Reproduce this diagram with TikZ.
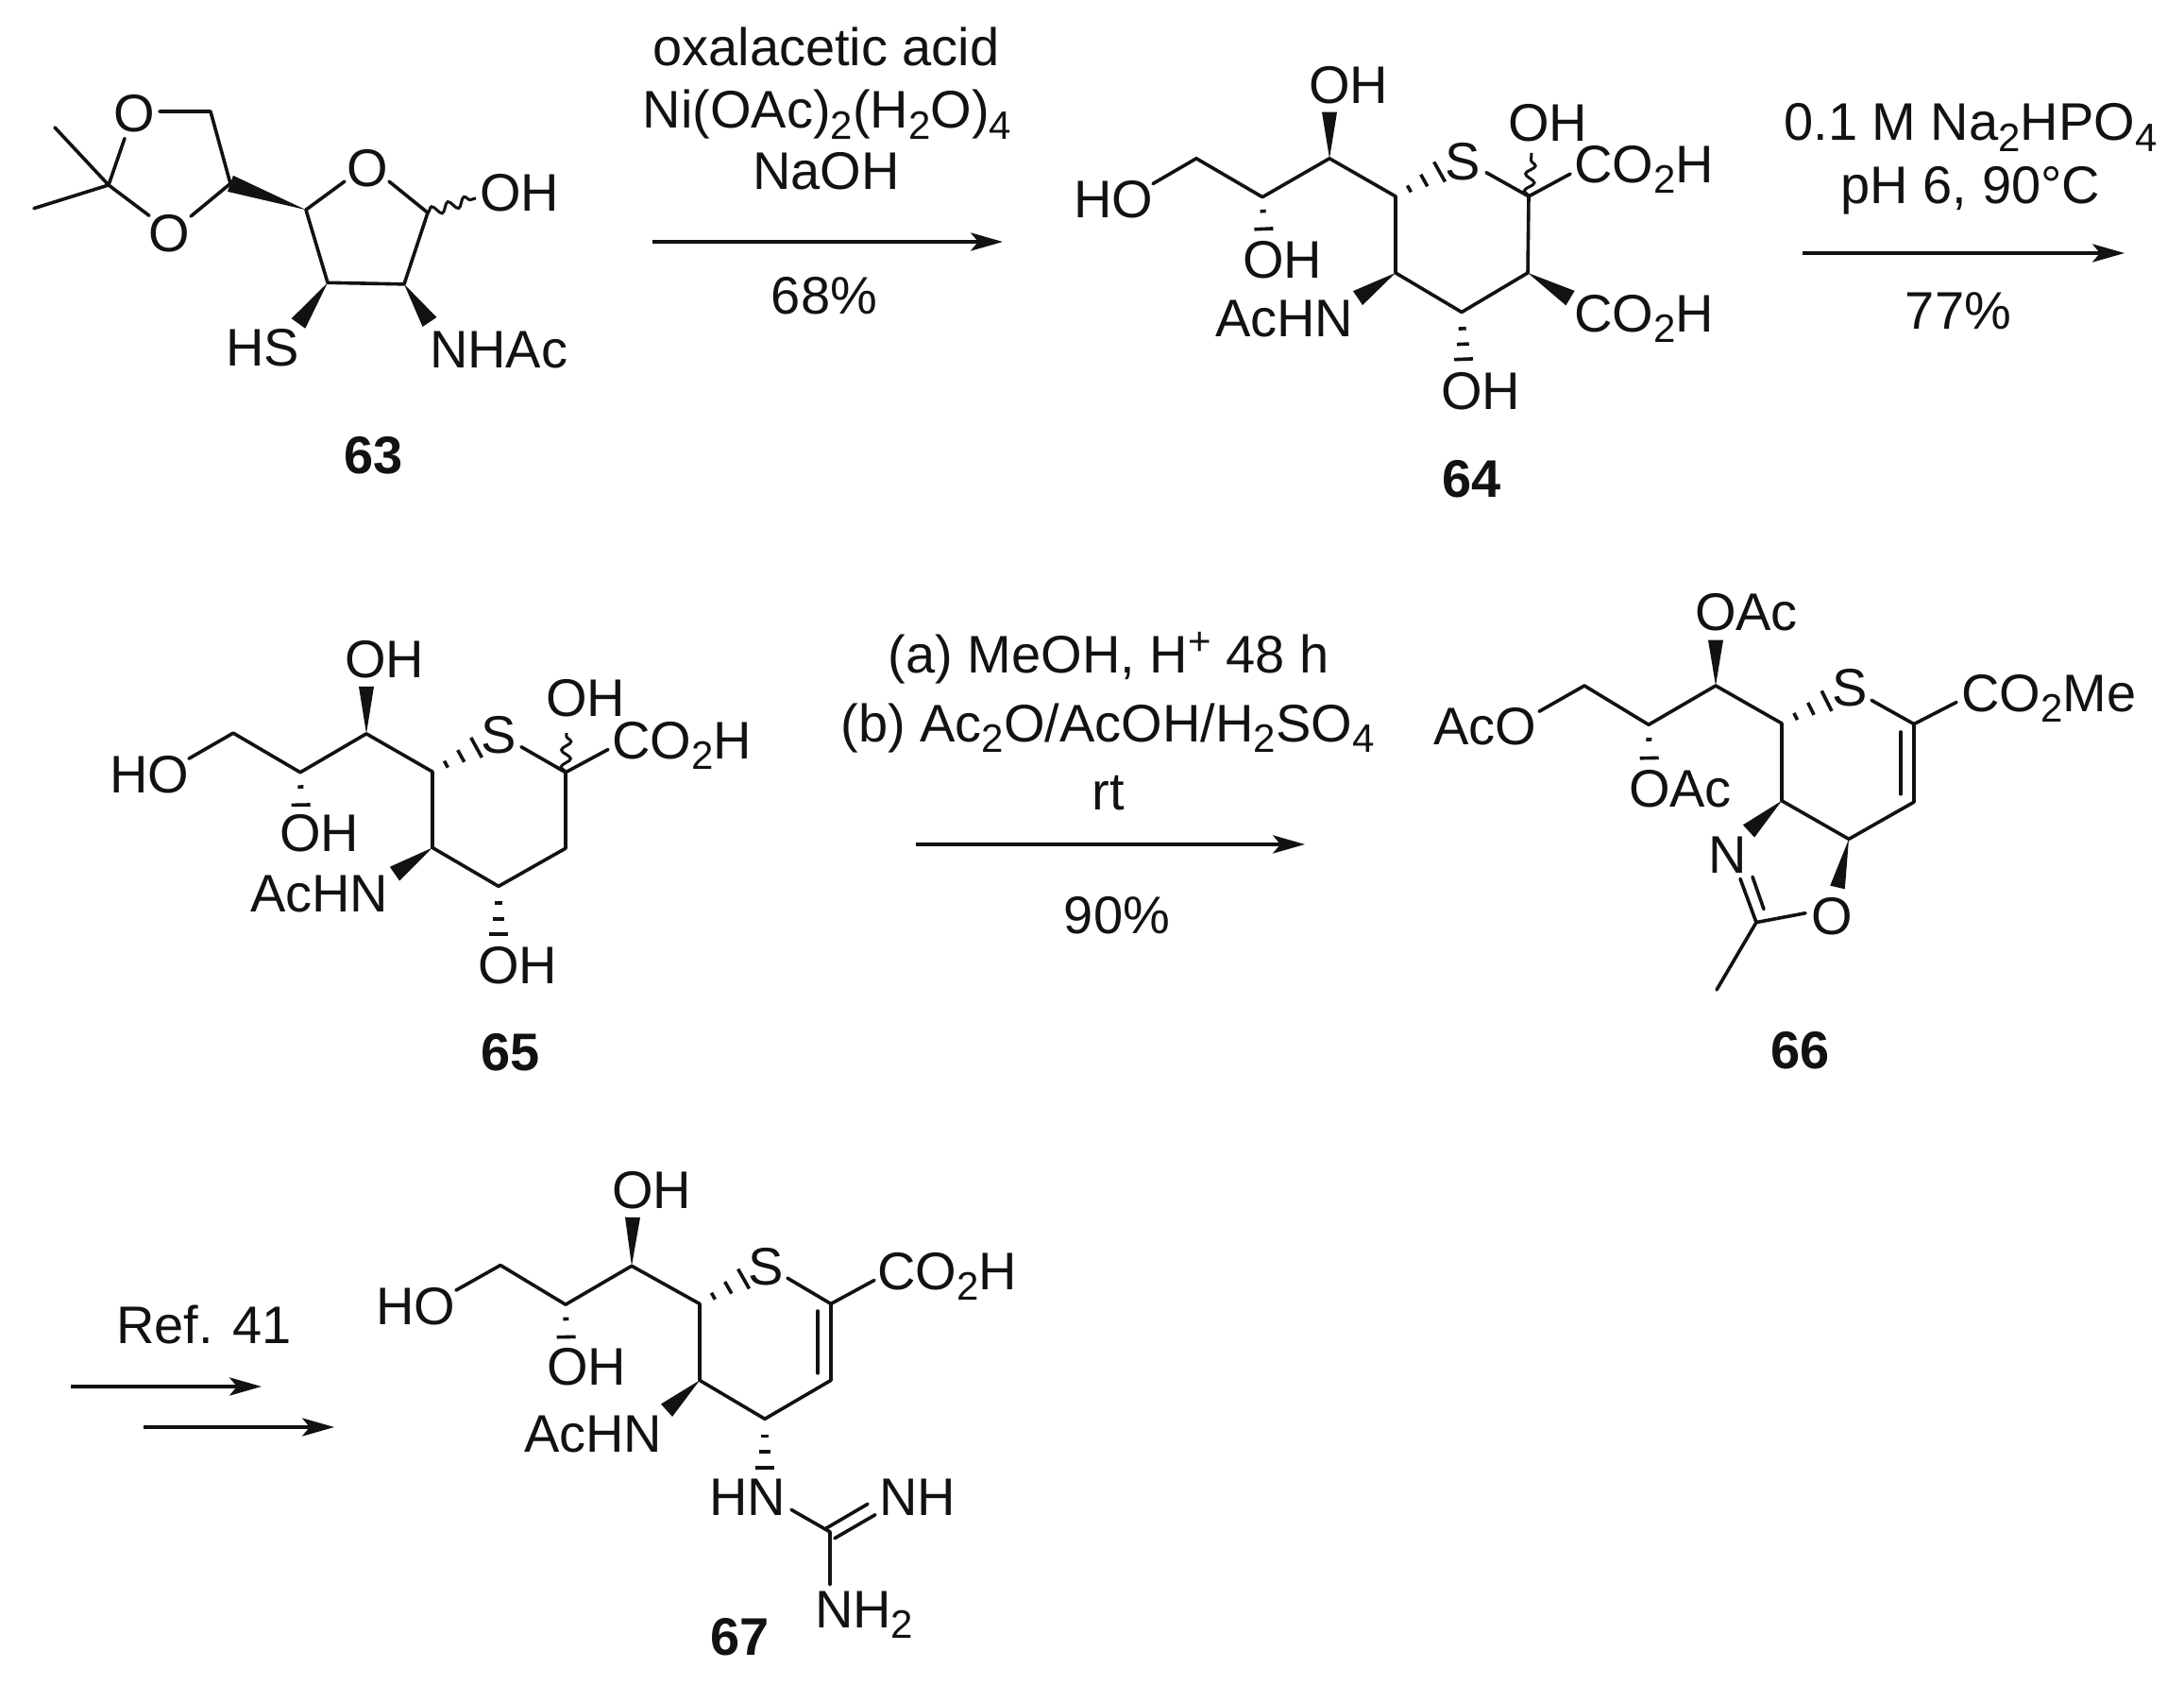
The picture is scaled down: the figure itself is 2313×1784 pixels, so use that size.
\documentclass[tikz,border=0pt]{standalone}
\usepackage{fontspec}
\setmainfont{Liberation Sans}
\usetikzlibrary{calc,decorations.pathmorphing,arrows.meta}
\newcommand\lowr[1]{\raisebox{-2.8pt}{\fontsize{10.5pt}{12pt}\selectfont #1}}
\newcommand\uppr[1]{\raisebox{4.8pt}{\fontsize{10.5pt}{12pt}\selectfont #1}}
\newcommand\wedgeb[3]{\fill[ink] (#1) -- ($(#2)!#3!90:(#1)$) -- ($(#2)!#3!-90:(#1)$) -- cycle;}
\newcommand\hashb[3]{\foreach \t/\w in {#3}{\coordinate (hp) at ($(#1)!\t!(#2)$);
  \draw[bond,line cap=butt] ($(hp)!\w!90:(#1)$) -- ($(hp)!\w!-90:(#1)$);}}
\colorlet{ink}{black!93}
\tikzset{
  bond/.style={draw=ink,line width=0.9pt,line cap=round,line join=round},
  wavy/.style={draw=ink,line width=0.75pt,decorate,decoration={snake,amplitude=1.25pt,segment length=4.5pt}},
  lbl/.style={anchor=base west,inner sep=0pt,outer sep=0pt,text=ink,font=\fontsize{14pt}{16pt}\selectfont},
  rea/.style={anchor=base,inner sep=0pt,outer sep=0pt,text=ink,font=\fontsize{14pt}{16pt}\selectfont},
  cmpd/.style={anchor=base west,inner sep=0pt,outer sep=0pt,text=ink,font=\fontsize{14pt}{16pt}\selectfont\bfseries},
  rxn/.style={draw=ink,line width=0.8pt,-{Stealth[length=8.5pt,width=4.8pt,inset=2pt]}}
}
\begin{document}
\begin{tikzpicture}[x=0.25pt,y=-0.25pt]
\useasboundingbox (0,0) rectangle (2313,1784);
% ---------- 63
\begin{scope}[yscale=0.7714]
\node[lbl] (aO1) at (121,181) {O};
\node[lbl] (aO2) at (157,345) {O};
\node[lbl] (aO3) at (367,256) {O};
\node[lbl] (aOH) at (508,290) {OH};
\node[lbl] (aHS) at (239,502) {HS};
\node[lbl] (aNH) at (455,505) {NHAc};
\node[cmpd] (a63) at (364,650) {63};
\coordinate (aM1) at (58,175); \coordinate (aM2) at (36,286); \coordinate (aC) at (115,254);
\coordinate (aE1) at (132,190); \coordinate (aE2) at (169,153); \coordinate (aCH) at (223,153);
\coordinate (aC4) at (244,252); \coordinate (aE3) at (202,297); \coordinate (aE4) at (158,296);
\coordinate (aC5) at (324,288); \coordinate (aE5) at (365,249); \coordinate (aE6) at (412,249);
\coordinate (aC1) at (453,292); \coordinate (aC2) at (428,390); \coordinate (aC3) at (347,388);
\coordinate (aW1) at (504,272); \coordinate (aW3) at (316,444); \coordinate (aW2) at (455,442);
\end{scope}
\draw[bond] (aM1) -- (aC) -- (aM2);
\draw[bond] (aE1) -- (aC) -- (aE4);
\draw[bond] (aE2) -- (aCH) -- (aC4) -- (aE3);
\draw[bond] (aE5) -- (aC5) -- (aC3) -- (aC2) -- (aC1) -- (aE6);
\wedgeb{aC5}{aC4}{2.25pt}
\wedgeb{aC3}{aW3}{2.25pt}
\wedgeb{aC2}{aW2}{2.25pt}
\draw[wavy] (aC1) -- (aW1);
% ---------- reaction 1
\node[rea] (r1a) at (875,70) {oxalacetic acid};
\node[rea] (r1b) at (876,136) {Ni(OAc)\lowr{2}(H\lowr{2}O)\lowr{4}};
\node[rea] (r1c) at (875,201) {NaOH};
\node[rea] (r1d) at (873,333) {68\%};
\coordinate (r1s) at (691,256); \coordinate (r1t) at (1062,256);
\draw[rxn] (r1s) -- (r1t);
% ---------- 64
\begin{scope}[shift={(0,40)},yscale=0.743,shift={(0,-40)}]
\node[lbl] (bHO) at (1137,296) {HO};
\node[lbl] (bS) at (1530,242) {S};
\node[lbl] (bOH1) at (1386,133) {OH};
\node[lbl] (bOH2) at (1316,383) {OH};
\node[lbl] (bOH3) at (1597,188) {OH};
\node[lbl] (bCO1) at (1667,247) {CO\lowr{2}H};
\node[lbl] (bCO2) at (1667,459) {CO\lowr{2}H};
\node[lbl] (bAc) at (1287,466) {AcHN};
\node[lbl] (bOH4) at (1526,569) {OH};
\node[cmpd] (b64) at (1527,695) {64};
\coordinate (b0) at (1221,248); \coordinate (b1) at (1267,212); \coordinate (b2) at (1337,267);
\coordinate (b3) at (1408,212); \coordinate (b4) at (1478,266); \coordinate (b5) at (1478,375);
\coordinate (b6) at (1548,431); \coordinate (b7) at (1618,375); \coordinate (b8) at (1619,266);
\coordinate (b9) at (1574,232); \coordinate (bA) at (1663,234);
\coordinate (bW1) at (1408,146); \coordinate (bW2) at (1663,411); \coordinate (bW3) at (1438,411);
\coordinate (bH1) at (1339,330); \coordinate (bH2) at (1526,230); \coordinate (bH3) at (1550,498);
\coordinate (bV) at (1622,204);
\end{scope}
\draw[bond] (b0) -- (b1) -- (b2) -- (b3) -- (b4) -- (b5) -- (b6) -- (b7) -- (b8) -- (b9);
\draw[bond] (b8) -- (bA);
\wedgeb{b3}{bW1}{2pt}
\wedgeb{b7}{bW2}{2.25pt}
\wedgeb{b5}{bW3}{2.25pt}
\hashb{b2}{bH1}{0.32/0.75pt,0.72/2.5pt}
\hashb{b6}{bH3}{0.35/1pt,0.68/1.6pt,1/2.5pt}
\hashb{b4}{bH2}{0.3/1pt,0.63/1.8pt,0.97/3pt}
\draw[wavy] (b8) -- (bV);
% ---------- reaction 2
\node[rea] (r2a) at (2087,149) {0.1 M Na\lowr{2}HPO\lowr{4}};
\node[rea] (r2b) at (2087,216) {pH 6, 90°C};
\node[rea] (r2c) at (2074,349) {77\%};
\coordinate (r2s) at (1909,268); \coordinate (r2t) at (2250,268);
\draw[rxn] (r2s) -- (r2t);
% ---------- 65
\begin{scope}[shift={(0,650)},yscale=0.6932,shift={(0,-650)}]
\node[lbl] (cHO) at (116,923) {HO};
\node[lbl] (cS) at (509,863) {S};
\node[lbl] (cOH1) at (365,748) {OH};
\node[lbl] (cOH2) at (296,1013) {OH};
\node[lbl] (cOH3) at (578,807) {OH};
\node[lbl] (cCO) at (648,871) {CO\lowr{2}H};
\node[lbl] (cAc) at (265,1105) {AcHN};
\node[lbl] (cOH4) at (506,1215) {OH};
\node[cmpd] (c65) at (509,1348) {65};
\coordinate (c0) at (200,871); \coordinate (c1) at (247,832); \coordinate (c2) at (318,892);
\coordinate (c3) at (388,833); \coordinate (c4) at (458,891); \coordinate (c5) at (458,1007);
\coordinate (c6) at (528,1066); \coordinate (c7) at (599,1008); \coordinate (c8) at (599,892);
\coordinate (c9) at (552,853); \coordinate (cA) at (644,857);
\coordinate (cW1) at (388,761); \coordinate (cW2) at (418,1047);
\coordinate (cH1) at (319,961); \coordinate (cH2) at (506,853); \coordinate (cH3) at (528,1139);
\coordinate (cV) at (600,832);
\end{scope}
\draw[bond] (c0) -- (c1) -- (c2) -- (c3) -- (c4) -- (c5) -- (c6) -- (c7) -- (c8) -- (c9);
\draw[bond] (c8) -- (cA);
\wedgeb{c3}{cW1}{2pt}
\wedgeb{c5}{cW2}{2.25pt}
\hashb{c2}{cH1}{0.32/0.75pt,0.72/2.5pt}
\hashb{c6}{cH3}{0.35/1pt,0.68/1.6pt,1/2.5pt}
\hashb{c4}{cH2}{0.3/1pt,0.63/1.8pt,0.97/3pt}
\draw[wavy] (c8) -- (cV);
% ---------- reaction 3
\begin{scope}[shift={(0,650)},yscale=0.8667,shift={(0,-650)}]
\node[rea] (r3a) at (1174,722) {(a) MeOH, H\uppr{+} 48 h};
\node[rea] (r3b) at (1173,806) {(b) Ac\lowr{2}O/AcOH/H\lowr{2}SO\lowr{4}};
\node[rea] (r3c) at (1174,889) {rt};
\node[rea] (r3d) at (1183,1040) {90\%};
\coordinate (r3s) at (970,931.5); \coordinate (r3t) at (1382,931.5);
\end{scope}
\draw[rxn] (r3s) -- (r3t);
% ---------- 66
\begin{scope}[shift={(0,600)},yscale=0.7,shift={(0,-600)}]
\node[lbl] (dAcO) at (1518,870) {AcO};
\node[lbl] (dS) at (1940,811) {S};
\node[lbl] (dOA1) at (1795,696) {OAc};
\node[lbl] (dOA2) at (1725,963) {OAc};
\node[lbl] (dCO) at (2077,819) {CO\lowr{2}Me};
\node[lbl] (dN) at (1809,1064) {N};
\node[lbl] (dO) at (1918,1156) {O};
\node[cmpd] (d66) at (1875,1359) {66};
\coordinate (d0) at (1630,819); \coordinate (d1) at (1678,780); \coordinate (d2) at (1746,839);
\coordinate (d3) at (1817,780); \coordinate (d4) at (1887,837); \coordinate (d5) at (1887,954);
\coordinate (d6) at (1958,1012); \coordinate (d7) at (2027,956); \coordinate (d8) at (2027,838);
\coordinate (d9) at (1982,802); \coordinate (dA) at (2072,805);
\coordinate (dI1) at (2013,850); \coordinate (dI2) at (2013,944);
\coordinate (dW1) at (1817,711); \coordinate (dW2) at (1852,1000); \coordinate (dW3) at (1946,1085);
\coordinate (dH1) at (1747,909); \coordinate (dH2) at (1936,802);
\coordinate (dN1) at (1843,1072); \coordinate (dC) at (1860,1138);
\coordinate (dN2) at (1856,1069); \coordinate (dN3) at (1868,1118);
\coordinate (dE) at (1912,1124); \coordinate (dMe) at (1818,1240);
\end{scope}
\draw[bond] (d0) -- (d1) -- (d2) -- (d3) -- (d4) -- (d5) -- (d6) -- (d7) -- (d8) -- (d9);
\draw[bond] (d8) -- (dA);
\draw[bond] (dI1) -- (dI2);
\draw[bond] (dN1) -- (dC) -- (dE);
\draw[bond] (dC) -- (dMe);
\draw[bond] (dN2) -- (dN3);
\wedgeb{d3}{dW1}{2pt}
\wedgeb{d5}{dW2}{2.25pt}
\wedgeb{d6}{dW3}{2pt}
\hashb{d2}{dH1}{0.32/0.75pt,0.72/2.5pt}
\hashb{d4}{dH2}{0.3/1pt,0.63/1.8pt,0.97/3pt}
% ---------- reaction 4
\node[rea] (r4a) at (216,1423) {Ref. 41};
\coordinate (r4s) at (75,1468); \coordinate (r4t) at (277,1468);
\coordinate (r5s) at (152,1511); \coordinate (r5t) at (354,1511);
\draw[rxn] (r4s) -- (r4t);
\draw[rxn] (r5s) -- (r5t);
% ---------- 67
\begin{scope}[shift={(0,1220)},yscale=0.7568,shift={(0,-1220)}]
\node[lbl] (eHO) at (398,1461) {HO};
\node[lbl] (eS) at (792,1406) {S};
\node[lbl] (eOH1) at (648,1299) {OH};
\node[lbl] (eOH2) at (579,1546) {OH};
\node[lbl] (eCO) at (929,1412) {CO\lowr{2}H};
\node[lbl] (eAc) at (555,1639) {AcHN};
\node[lbl] (eHN) at (751,1728) {HN};
\node[lbl] (eNH) at (931,1728) {NH};
\node[lbl] (eNH2) at (863,1885) {NH\lowr{2}};
\node[cmpd] (e67) at (752,1923) {67};
\coordinate (e0) at (483,1413); \coordinate (e1) at (530,1378); \coordinate (e2) at (599,1433);
\coordinate (e3) at (669,1379); \coordinate (e4) at (741,1432); \coordinate (e5) at (741,1539);
\coordinate (e6) at (810,1593); \coordinate (e7) at (880,1539); \coordinate (e8) at (880,1432);
\coordinate (e9) at (834,1396); \coordinate (eA) at (926,1399);
\coordinate (eI1) at (866,1442); \coordinate (eI2) at (866,1529);
\coordinate (eW1) at (670,1311); \coordinate (eW2) at (706,1581);
\coordinate (eH1) at (600,1496); \coordinate (eH2) at (789,1396); \coordinate (eH3) at (810,1661);
\coordinate (eG) at (879,1751); \coordinate (eG1) at (838,1720); \coordinate (eG2) at (879,1825);
\coordinate (eD1) at (875,1746); \coordinate (eD2) at (919,1712);
\coordinate (eD3) at (884,1760); \coordinate (eD4) at (927,1727);
\end{scope}
\draw[bond] (e0) -- (e1) -- (e2) -- (e3) -- (e4) -- (e5) -- (e6) -- (e7) -- (e8) -- (e9);
\draw[bond] (e8) -- (eA);
\draw[bond] (eI1) -- (eI2);
\draw[bond] (eG1) -- (eG) -- (eG2);
\draw[bond] (eD1) -- (eD2);
\draw[bond] (eD3) -- (eD4);
\wedgeb{e3}{eW1}{2pt}
\wedgeb{e5}{eW2}{2.25pt}
\hashb{e2}{eH1}{0.32/0.75pt,0.72/2.5pt}
\hashb{e4}{eH2}{0.3/1pt,0.63/1.8pt,0.97/3pt}
\hashb{e6}{eH3}{0.35/1pt,0.68/1.6pt,1/2.5pt}
\end{tikzpicture}
\end{document}
